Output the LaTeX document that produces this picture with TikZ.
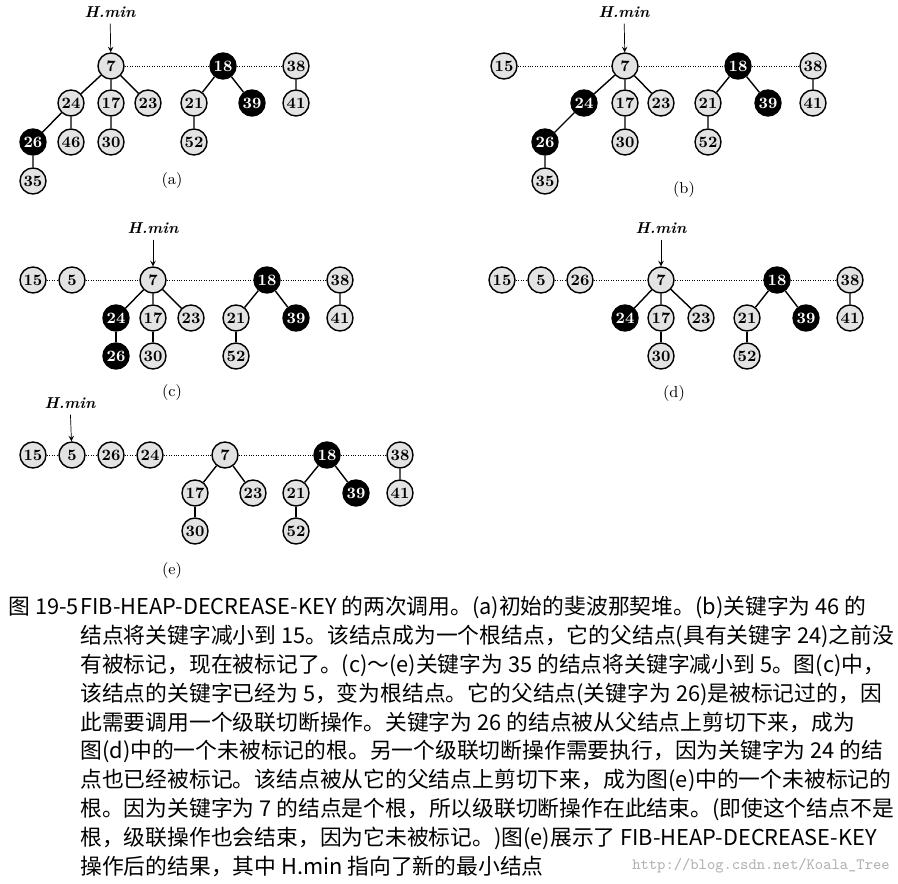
\documentclass[tikz,border=0pt]{standalone}
\usepackage{fontspec}
\newfontfamily\cjk{Noto Sans CJK SC}
\tikzset{
  key/.style={circle, draw, thick, fill=gray!22, minimum size=0.52cm, inner sep=0pt, font=\small\bfseries},
  marked/.style={key, fill=black, text=white},
  root/.style={densely dotted},
  tree/.style={thick},
  hmin/.style={font=\small\bfseries\itshape},
  sub/.style={font=\small},
  capline/.style={anchor=west, font=\cjk\fontsize{12.4}{14}\selectfont, inner sep=0pt}
}
\begin{document}
\begin{tikzpicture}[x=0.02cm, y=-0.02cm]
\useasboundingbox (0,0) rectangle (898,884);

% (a)
\node[hmin] (ha) at (110,12) {H.min};
\node[key] (a7) at (111,66) {7};
\node[marked] (a18) at (223,66) {18};
\node[key] (a38) at (296,66) {38};
\node[key] (a24) at (71,103) {24};
\node[key] (a17) at (111,103) {17};
\node[key] (a23) at (148,103) {23};
\node[key] (a21) at (194,103) {21};
\node[marked] (a39) at (252,103) {39};
\node[key] (a41) at (296,103) {41};
\node[marked] (a26) at (33,142) {26};
\node[key] (a46) at (71,142) {46};
\node[key] (a30) at (111,142) {30};
\node[key] (a52) at (194,142) {52};
\node[key] (a35) at (33,181) {35};
\node[sub] (la) at (172,181) {(a)};
\draw[->, >=stealth] (ha) -- (a7);
\draw[root] (a7) -- (a18) -- (a38);
\draw[tree] (a7) -- (a24) (a7) -- (a17) (a7) -- (a23);
\draw[tree] (a18) -- (a21) (a18) -- (a39) (a38) -- (a41);
\draw[tree] (a24) -- (a26) (a24) -- (a46) (a17) -- (a30) (a21) -- (a52) (a26) -- (a35);

% (b)
\node[hmin] (hb) at (624,12) {H.min};
\node[key] (b15) at (504,66) {15};
\node[key] (b7) at (625,66) {7};
\node[marked] (b18) at (738,66) {18};
\node[key] (b38) at (813,66) {38};
\node[marked] (b24) at (584,103) {24};
\node[key] (b17) at (625,103) {17};
\node[key] (b23) at (661,103) {23};
\node[key] (b21) at (708,103) {21};
\node[marked] (b39) at (768,103) {39};
\node[key] (b41) at (813,103) {41};
\node[marked] (b26) at (545,142) {26};
\node[key] (b30) at (625,142) {30};
\node[key] (b52) at (708,142) {52};
\node[key] (b35) at (545,181) {35};
\node[sub] (lb) at (684,190) {(b)};
\draw[->, >=stealth] (hb) -- (b7);
\draw[root] (b15) -- (b7) -- (b18) -- (b38);
\draw[tree] (b7) -- (b24) (b7) -- (b17) (b7) -- (b23);
\draw[tree] (b18) -- (b21) (b18) -- (b39) (b38) -- (b41);
\draw[tree] (b24) -- (b26) (b17) -- (b30) (b21) -- (b52) (b26) -- (b35);

% (c)
\node[hmin] (hc) at (153,228) {H.min};
\node[key] (c15) at (33,280) {15};
\node[key] (c5) at (72,280) {5};
\node[key] (c7) at (153,280) {7};
\node[marked] (c18) at (267,280) {18};
\node[key] (c38) at (340,280) {38};
\node[marked] (c24) at (116,318) {24};
\node[key] (c17) at (153,318) {17};
\node[key] (c23) at (191,318) {23};
\node[key] (c21) at (236,318) {21};
\node[marked] (c39) at (296,318) {39};
\node[key] (c41) at (340,318) {41};
\node[marked] (c26) at (116,356) {26};
\node[key] (c30) at (153,356) {30};
\node[key] (c52) at (236,356) {52};
\node[sub] (lc) at (172,393) {(c)};
\draw[->, >=stealth] (hc) -- (c7);
\draw[root] (c15) -- (c5) -- (c7) -- (c18) -- (c38);
\draw[tree] (c7) -- (c24) (c7) -- (c17) (c7) -- (c23);
\draw[tree] (c18) -- (c21) (c18) -- (c39) (c38) -- (c41);
\draw[tree] (c24) -- (c26) (c17) -- (c30) (c21) -- (c52);

% (d)
\node[hmin] (hd) at (661,228) {H.min};
\node[key] (d15) at (502,280) {15};
\node[key] (d5) at (541,280) {5};
\node[key] (d26) at (580,280) {26};
\node[key] (d7) at (661,280) {7};
\node[marked] (d18) at (777,280) {18};
\node[key] (d38) at (850,280) {38};
\node[marked] (d24) at (625,318) {24};
\node[key] (d17) at (661,318) {17};
\node[key] (d23) at (701,318) {23};
\node[key] (d21) at (747,318) {21};
\node[marked] (d39) at (806,318) {39};
\node[key] (d41) at (850,318) {41};
\node[key] (d30) at (661,356) {30};
\node[key] (d52) at (747,356) {52};
\node[sub] (ld) at (674,394) {(d)};
\draw[->, >=stealth] (hd) -- (d7);
\draw[root] (d15) -- (d5) -- (d26) -- (d7) -- (d18) -- (d38);
\draw[tree] (d7) -- (d24) (d7) -- (d17) (d7) -- (d23);
\draw[tree] (d18) -- (d21) (d18) -- (d39) (d38) -- (d41);
\draw[tree] (d17) -- (d30) (d21) -- (d52);

% (e)
\node[hmin] (he) at (70,403) {H.min};
\node[key] (e15) at (33,455) {15};
\node[key] (e5) at (72,455) {5};
\node[key] (e26) at (111,455) {26};
\node[key] (e24) at (150,455) {24};
\node[key] (e7) at (225,455) {7};
\node[marked] (e18) at (327,455) {18};
\node[key] (e38) at (400,455) {38};
\node[key] (e17) at (195,493) {17};
\node[key] (e23) at (253,493) {23};
\node[key] (e21) at (296,493) {21};
\node[marked] (e39) at (356,493) {39};
\node[key] (e41) at (400,493) {41};
\node[key] (e30) at (195,531) {30};
\node[key] (e52) at (296,531) {52};
\node[sub] (le) at (172,571) {(e)};
\draw[->, >=stealth] (he) -- (e5);
\draw[root] (e15) -- (e5) -- (e26) -- (e24) -- (e7) -- (e18) -- (e38);
\draw[tree] (e7) -- (e17) (e7) -- (e23);
\draw[tree] (e18) -- (e21) (e18) -- (e39) (e38) -- (e41);
\draw[tree] (e17) -- (e30) (e21) -- (e52);

% caption
\node[capline] (cap0) at (8,607) {图 19-5};
\node[capline] (cap1) at (80,607) {FIB-HEAP-DECREASE-KEY 的两次调用。(a)初始的斐波那契堆。(b)关键字为 46 的};
\node[capline] (cap2) at (80,636) {结点将关键字减小到 15。该结点成为一个根结点，它的父结点(具有关键字 24)之前没};
\node[capline] (cap3) at (80,665) {有被标记，现在被标记了。(c)～(e)关键字为 35 的结点将关键字减小到 5。图(c)中，};
\node[capline] (cap4) at (80,694) {该结点的关键字已经为 5，变为根结点。它的父结点(关键字为 26)是被标记过的，因};
\node[capline] (cap5) at (80,722) {此需要调用一个级联切断操作。关键字为 26 的结点被从父结点上剪切下来，成为};
\node[capline] (cap6) at (80,751) {图(d)中的一个未被标记的根。另一个级联切断操作需要执行，因为关键字为 24 的结};
\node[capline] (cap7) at (80,780) {点也已经被标记。该结点被从它的父结点上剪切下来，成为图(e)中的一个未被标记的};
\node[capline] (cap8) at (80,809) {根。因为关键字为 7 的结点是个根，所以级联切断操作在此结束。(即使这个结点不是};
\node[capline] (cap9) at (80,838) {根，级联操作也会结束，因为它未被标记。)图(e)展示了 FIB-HEAP-DECREASE-KEY};
\node[capline] (cap10) at (80,866) {操作后的结果，其中 \textit{H.min} 指向了新的最小结点};
\node[anchor=east, font=\ttfamily\small, text=gray!60, inner sep=0pt] (mark) at (890,866) {http://blog.csdn.net/Koala\_Tree};
\end{tikzpicture}
\end{document}
